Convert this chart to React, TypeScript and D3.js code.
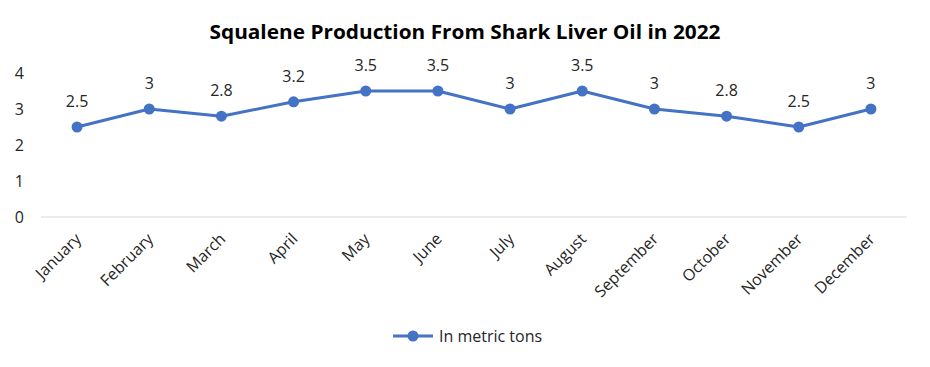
import React, { useEffect, useRef } from 'react';
import * as d3 from 'd3';

const months = ['January', 'February', 'March', 'April', 'May', 'June', 'July', 'August', 'September', 'October', 'November', 'December'];
const production = [2.5, 3, 2.8, 3.2, 3.5, 3.5, 3, 3.5, 3, 2.8, 2.5, 3];
const yTicks = [0, 1, 2, 3, 4];

const title = 'Squalene Production From Shark Liver Oil in 2022';
const seriesName = 'In metric tons';
const blue = '#4472C4';
const font = "'Open Sans', sans-serif";

const App = () => {
    const ref = useRef<SVGSVGElement>(null);

    useEffect(() => {
        if (!ref.current) return;
        const svg = d3.select(ref.current);
        svg.selectAll('*').remove();

        const width = 930, height = 367;
        const x = d3.scaleBand<string>().domain(months).range([41, 907]);
        const y = d3.scaleLinear().domain([0, 4]).range([217, 73]);
        const cx = (m: string) => (x(m) as number) + x.bandwidth() / 2;

        svg.append('rect').attr('width', width).attr('height', height).attr('fill', '#fff');

        // title
        svg.append('text')
            .attr('x', 465).attr('y', 39)
            .attr('text-anchor', 'middle')
            .style('font-family', font)
            .style('font-weight', 'bold')
            .style('font-size', '19px')
            .attr('textLength', 511)
            .attr('lengthAdjust', 'spacingAndGlyphs')
            .text(title);

        // baseline
        svg.append('line')
            .attr('x1', 41).attr('x2', 907)
            .attr('y1', y(0)).attr('y2', y(0))
            .attr('stroke', '#d9d9d9').attr('stroke-width', 1);

        // y tick labels
        svg.append('g').selectAll('text')
            .data(yTicks)
            .enter().append('text')
            .attr('x', 24)
            .attr('y', d => y(d) + 6)
            .attr('text-anchor', 'end')
            .style('font-family', font)
            .style('font-size', '16px')
            .attr('fill', '#262626')
            .text(d => d);

        // x tick labels
        svg.append('g').selectAll('text')
            .data(months)
            .enter().append('text')
            .attr('text-anchor', 'end')
            .attr('transform', d => `translate(${cx(d) + 5},${240}) rotate(-45)`)
            .style('font-family', font)
            .style('font-size', '16px')
            .attr('fill', '#262626')
            .text(d => d);

        // line
        const line = d3.line<number>()
            .x((d, i) => cx(months[i]))
            .y(d => y(d));
        svg.append('path')
            .datum(production)
            .attr('d', line)
            .attr('fill', 'none')
            .attr('stroke', blue)
            .attr('stroke-width', 3)
            .attr('stroke-linejoin', 'round');

        svg.append('g').selectAll('circle')
            .data(production)
            .enter().append('circle')
            .attr('cx', (d, i) => cx(months[i]))
            .attr('cy', d => y(d))
            .attr('r', 5.5)
            .attr('fill', blue);

        // data labels
        svg.append('g').selectAll('text')
            .data(production)
            .enter().append('text')
            .attr('x', (d, i) => cx(months[i]))
            .attr('y', d => y(d) - 20)
            .attr('text-anchor', 'middle')
            .style('font-family', font)
            .style('font-size', '16px')
            .attr('fill', '#262626')
            .text(d => d);

        // legend
        const lg = svg.append('g');
        lg.append('line')
            .attr('x1', 393).attr('x2', 433).attr('y1', 336).attr('y2', 336)
            .attr('stroke', blue).attr('stroke-width', 3);
        lg.append('circle').attr('cx', 413).attr('cy', 336).attr('r', 5.5).attr('fill', blue);
        lg.append('text')
            .attr('x', 439).attr('y', 342)
            .style('font-family', font)
            .style('font-size', '16px')
            .attr('fill', '#262626')
            .text(seriesName);
    }, []);

    return <svg ref={ref} width={930} height={367} style={{ display: 'block', position: 'absolute', left: 0, top: 0 }} />;
};

export default App;
